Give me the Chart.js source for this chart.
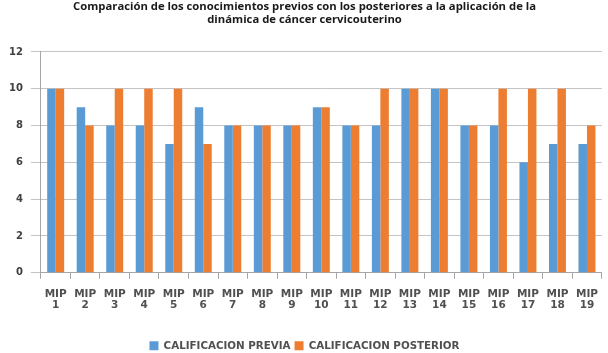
<!DOCTYPE html>
<html>
<head>
<meta charset="utf-8">
<script src="https://cdn.jsdelivr.net/npm/chart.js@4"></script>
<style>
  html, body { margin: 0; padding: 0; background: #fff; }
  #wrap { width: 608px; height: 353px; }
</style>
</head>
<body>
<div id="wrap"><canvas id="chart"></canvas></div>
<script>
// categories MIP 1..19
let categories = ['1','2','3','4','5','6','7','8','9','10','11','12','13','14','15','16','17','18','19'];
let previa = [10, 9, 8, 8, 7, 9, 8, 8, 8, 9, 8, 8, 10, 10, 8, 8, 6, 7, 7];
let posterior = [10, 8, 10, 10, 10, 7, 8, 8, 8, 9, 8, 10, 10, 10, 8, 10, 10, 10, 8];
let yTicks = [0, 2, 4, 6, 8, 10, 12];

let labels = categories.map(n => ['MIP', n]);

let ctx = document.getElementById('chart');
const myChart = new Chart(ctx, {
    type: 'bar',
    data: {
        labels: labels,
        datasets: [
            { label: 'CALIFICACION PREVIA', data: previa, backgroundColor: '#5B9BD5' },
            { label: 'CALIFICACION POSTERIOR', data: posterior, backgroundColor: '#ED7D31' }
        ]
    },
    options: {
        responsive: true,
        maintainAspectRatio: false,
        animation: false,
        layout: { padding: { left: 1, right: 0, top: 0, bottom: -8 } },
        datasets: { bar: { categoryPercentage: 0.575, barPercentage: 1 } },
        plugins: {
            title: {
                display: true,
                text: ['Comparación de los conocimientos previos con los posteriores a la aplicación de la', 'dinámica de cáncer cervicouterino'],
                font: { family: 'Open Sans', size: 11.3, weight: 'bold', lineHeight: 1.15 },
                color: '#1a1a1a',
                padding: { top: 0, bottom: 26 }
            },
            legend: {
                position: 'bottom',
                labels: {
                    boxWidth: 9, boxHeight: 9,
                    font: { family: 'DejaVu Sans', size: 10.3, weight: 'bold' },
                    color: '#505050',
                    padding: 4
                }
            },
            tooltip: { enabled: false }
        },
        scales: {
            x: {
                afterFit: axis => { axis.height = 64; },
                grid: { drawOnChartArea: false, color: '#a6a6a6', tickLength: 6, offset: true },
                border: { color: '#a6a6a6' },
                ticks: {
                    autoSkip: false, maxRotation: 0, minRotation: 0,
                    font: { family: 'DejaVu Sans', size: 10.5, weight: 'bold', lineHeight: 1.05 },
                    color: '#505050',
                    padding: 10
                }
            },
            y: {
                min: 0, max: 12,
                afterBuildTicks: axis => { axis.ticks = yTicks.map(v => ({ value: v })); },
                grid: { color: '#c4c4c4', tickLength: 10 },
                border: { color: '#a6a6a6' },
                ticks: {
                    font: { family: 'DejaVu Sans', size: 10, weight: 'bold' },
                    color: '#404040',
                    padding: 8
                }
            }
        }
    }
});
</script>
</body>
</html>
